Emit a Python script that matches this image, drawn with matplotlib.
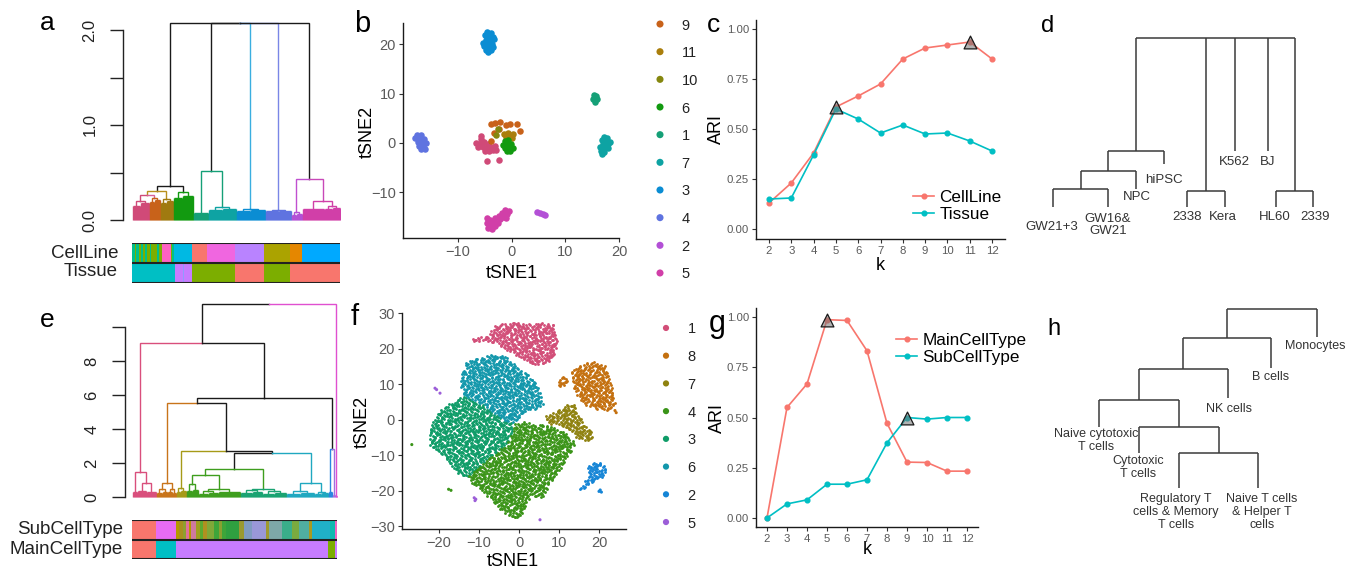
import numpy as np
import matplotlib
matplotlib.use("Agg")
import matplotlib.pyplot as plt
from matplotlib.path import Path

plt.rcParams["font.family"] = ["Liberation Sans", "DejaVu Sans"]

W, H = 1353, 572

# ---------------- data ----------------
# c / g : ARI against k
k_values = list(range(2, 13))
ari_cellline = [0.13, 0.23, 0.38, 0.61, 0.665, 0.725, 0.85, 0.905, 0.92, 0.935, 0.85]
ari_tissue = [0.15, 0.155, 0.37, 0.60, 0.55, 0.48, 0.52, 0.475, 0.48, 0.44, 0.39]
best_k_cellline = [5, 11]
ari_main = [0.0, 0.55, 0.667, 0.987, 0.983, 0.832, 0.471, 0.278, 0.276, 0.233, 0.233]
ari_sub = [0.0, 0.07, 0.09, 0.168, 0.168, 0.19, 0.374, 0.50, 0.492, 0.50, 0.50]
best_k_main = [5]
best_k_sub = [9]

b_colors = {"8": "#D04A78", "9": "#C8621A", "11": "#AA7E0C", "10": "#85870F", "6": "#129A10",
            "1": "#15A077", "7": "#0EA3A3", "3": "#0B8DD3", "4": "#5F73E0", "2": "#B350D6",
            "5": "#D13FA8"}
b_legend = ["9", "11", "10", "6", "1", "7", "3", "4", "2", "5"]
b_points = {
    "8": [(-5.7, 0.8), (-6.6, 0.0), (-5.9, -0.2), (-5.1, 0.1), (-4.4, -0.3), (-6.2, -0.8),
          (-5.4, -0.9), (-4.6, -1.0), (-3.8, -0.9), (-3.0, -0.7), (-5.0, -1.6), (-4.2, -1.7),
          (-3.4, -1.5), (-2.9, -1.4), (-4.6, -3.7), (-2.4, -3.5), (-5.6, 1.4)],
    "9": [(-3.8, 3.9), (-3.1, 4.0), (-2.2, 4.2), (-1.0, 3.7), (1.0, 3.8), (1.6, 2.3),
          (-3.3, 2.0), (-3.8, 0.4), (-2.4, 2.9), (-0.3, 3.9)],
    "11": [(-1.0, 1.2), (-0.3, 1.4), (0.3, 1.7), (-0.6, 2.0), (0.1, 1.0), (-1.4, 1.8)],
    "10": [(-2.6, 2.8), (-2.9, 1.5)],
    "6": [(-1.3, 0.3), (-0.6, 0.5), (-1.5, -0.4), (-0.8, -0.3), (-0.1, -0.3), (-1.2, -1.1),
          (-0.5, -1.0), (0.2, -1.0), (-0.9, -1.6), (-0.2, -1.6)],
    "1": [(15.3, 9.6), (15.8, 9.5), (15.2, 8.9), (15.9, 8.8), (15.5, 8.3)],
    "7": [(17.2, 1.2), (17.8, 1.0), (16.9, 0.5), (17.6, 0.4), (18.3, 0.2), (17.1, -0.2),
          (17.9, -0.3), (16.4, -0.9), (17.2, -1.0), (17.9, -1.0), (16.6, -1.6), (17.3, -1.8),
          (16.9, -2.2)],
    "3": [(-4.5, 22.4), (-3.8, 22.3), (-5.0, 21.8), (-4.2, 21.6), (-3.4, 21.5), (-4.8, 20.9),
          (-4.0, 20.8), (-3.2, 21.0), (-5.4, 20.3), (-4.5, 20.2), (-3.7, 20.1), (-5.2, 19.6),
          (-4.3, 19.4), (-3.5, 19.5), (-4.8, 18.9), (-3.9, 18.8), (-4.4, 18.4)],
    "4": [(-17.6, 1.6), (-16.9, 1.5), (-17.9, 0.9), (-17.1, 0.8), (-16.3, 0.7), (-17.5, 0.1),
          (-16.7, 0.0), (-16.0, -0.1), (-17.2, -0.6), (-16.4, -0.7), (-16.8, -1.3), (-16.1, -1.2)],
    "2": [(4.8, -14.0), (5.3, -14.2), (5.8, -14.4), (6.2, -14.6)],
    "5": [(-1.2, -13.6), (-0.5, -13.8), (-1.8, -14.2), (-0.8, -14.5), (-2.3, -14.8), (-1.5, -15.0),
          (-3.0, -15.3), (-2.2, -15.5), (-4.0, -15.6), (-3.4, -15.9), (-2.6, -16.2), (-4.5, -16.2),
          (-3.8, -16.6), (-3.0, -16.9), (-4.3, -17.2), (-3.6, -17.5), (-4.6, -15.2), (-1.0, -15.3)],
}

# f : tSNE of PBMC, outline of each cluster plus stray dots
f_colors = {"1": "#D24E78", "8": "#C4700F", "7": "#8F8210", "4": "#3A9418", "3": "#0F9C68",
            "6": "#1297AB", "2": "#1585D6", "5": "#9C5ED8"}
f_legend = ["1", "8", "7", "4", "3", "6", "2", "5"]
f_regions = {
    "3": [(-22.7, -5.6), (-21.8, -0.9), (-19.75, 2.8), (-17.25, 4.7), (-13.9, 6.6), (-11.4, 5.6),
          (-8.9, 4.2), (-6.4, 1.9), (-3.9, 0.0), (-1.4, -0.9), (-1.8, -3.8), (-3.1, -6.6),
          (-5.6, -9.4), (-8.1, -11.3), (-10.6, -14.1), (-13.1, -16.0), (-15.6, -15.0),
          (-17.25, -12.2), (-19.75, -9.4), (-22.25, -7.5)],
    "6": [(-14.3, 13.1), (-13.1, 16.4), (-9.75, 17.4), (-7.25, 18.3), (-5.6, 18.3), (-3.1, 17.8),
          (-0.6, 15.0), (1.9, 13.1), (4.4, 10.3), (5.25, 7.5), (6.1, 4.7), (4.4, 2.8), (1.9, 2.8),
          (0.25, 0.9), (-1.4, -0.9), (-3.9, 0.0), (-6.4, 1.9), (-8.9, 4.2), (-11.4, 5.6),
          (-13.9, 6.6), (-14.75, 9.4)],
    "1": [(-12.1, 22.7), (-9.75, 23.5), (-7.25, 23.5), (-6.8, 26.3), (-4.75, 27.2), (-1.4, 27.7),
          (1.9, 26.8), (5.25, 27.2), (8.6, 27.2), (9.8, 21.6), (9.0, 18.8), (7.75, 16.4),
          (5.25, 15.5), (2.75, 15.9), (0.25, 17.4), (-3.1, 19.7), (-5.6, 21.6), (-8.1, 22.1),
          (-11.4, 22.1)],
    "4": [(-12.7, -15.5), (-10.6, -14.1), (-8.1, -11.3), (-5.6, -9.4), (-3.1, -6.6), (-1.8, -3.8),
          (-1.4, -0.9), (1.1, -0.5), (5.25, -1.4), (8.6, -1.9), (11.9, -3.8), (14.0, -6.6),
          (12.75, -9.4), (10.25, -14.1), (7.75, -17.8), (6.1, -22.1), (3.6, -21.6), (1.9, -23.5),
          (0.7, -27.2), (-1.4, -27.7), (-4.75, -25.4), (-7.25, -22.5), (-9.75, -19.7),
          (-12.25, -17.8)],
    "7": [(6.5, 0.9), (8.6, 1.9), (11.9, 4.2), (13.6, 4.7), (14.8, 1.9), (16.1, -0.9), (17.3, -2.8),
          (18.6, -3.8), (18.2, -5.6), (16.1, -6.1), (14.4, -5.2), (12.75, -2.8), (10.25, -1.4),
          (7.75, -1.4)],
    "8": [(13.2, 14.1), (15.25, 15.5), (19.0, 16.4), (21.9, 15.0), (22.75, 11.3), (23.6, 7.5),
          (24.0, 4.7), (22.75, 2.8), (20.25, 2.8), (17.75, 3.3), (16.1, 4.7), (14.0, 7.5),
          (13.2, 10.3)],
    "2": [(17.3, -12.2), (18.6, -11.7), (21.1, -12.2), (21.9, -14.1), (21.1, -16.0), (19.4, -16.9),
          (17.75, -17.8), (16.5, -18.8), (15.7, -20.2), (15.1, -19.7), (16.1, -17.4), (17.1, -15.0)],
}
f_small_regions = [("8", [(9.6, 10.0), (10.6, 12.3), (12.3, 12.0), (11.8, 10.0), (10.6, 9.3)])]
f_strays = [("5", -21.0, 8.9), ("5", -20.6, 8.5), ("5", -19.75, 7.5), ("5", -11.2, -22.0),
            ("5", -10.8, -22.4), ("5", -11.0, -22.8), ("5", 5.25, -28.2), ("4", -26.8, -7.0),
            ("4", -17.6, -19.6), ("4", -17.0, -19.9), ("8", 24.0, 2.6), ("8", 24.3, 2.0),
            ("2", 20.0, -20.2), ("2", 20.6, -20.4), ("2", 20.3, -19.8)]

# a / e : annotation bars under the dendrograms, (colour, number of leaves)
a_cellline = [("#00C08B", 3), ("#7CAE00", 1), ("#00C08B", 3), ("#7CAE00", 2), ("#00C08B", 2),
              ("#7CAE00", 2), ("#00C08B", 2), ("#7CAE00", 3), ("#00C08B", 1), ("#7CAE00", 6),
              ("#00C08B", 2), ("#7CAE00", 3), ("#FF61C3", 9), ("#7CAE00", 1), ("#00C08B", 2),
              ("#00B9E3", 18), ("#F8766D", 15), ("#F066E0", 28), ("#B983FF", 29), ("#ABA300", 26),
              ("#E58700", 12), ("#00A9FF", 38)]
a_tissue = [("#00BFC4", 43), ("#C77CFF", 8), ("#8F9CFF", 1), ("#C77CFF", 8), ("#7CAE00", 43),
            ("#F8766D", 29), ("#7CAE00", 26), ("#F8766D", 50)]
e_subcell = [("#F8766D", 24), ("#E76BF3", 20), ("#B49A00", 3), ("#A89020", 4), ("#8FA030", 3),
             ("#E0709A", 3), ("#B49A00", 2), ("#D07AA0", 5), ("#A0A020", 4), ("#5DAA30", 3),
             ("#B09020", 4), ("#80A838", 7), ("#3EA53A", 5), ("#8AA030", 3), ("#3EA53A", 4),
             ("#2FA040", 13), ("#9A9A30", 5), ("#7F9CC0", 8), ("#9A98D8", 14), ("#A09A30", 3),
             ("#7EA8A8", 13), ("#3AAE8A", 10), ("#7AAA40", 7), ("#50AEA0", 10), ("#A89A20", 3),
             ("#20B0C8", 18), ("#10B8B0", 5), ("#F066C0", 2)]
e_maincell = [("#F8766D", 24), ("#00BFC4", 20), ("#C77CFF", 152), ("#7CAE00", 7), ("#C77CFF", 2)]

# d / h : summary trees (leaf position, leaf height, label position)
d_names = ["GW21+3", "GW16&\nGW21", "NPC", "hiPSC", "2338", "Kera", "K562", "BJ", "HL60", "2339"]
d_leaf_x = [53, 108, 136, 164, 187, 225, 235, 268, 276, 313]
d_leaf_h = [0.0, 0.0, 1.07, 2.55, 0.0, 0.0, 3.3, 3.3, 0.0, 0.0]
d_label_x = [52, 108, 137, 164, 187, 223, 234, 268, 275, 315]
d_label_h = [-1.18, -1.07, 0.59, 1.6, -0.59, -0.59, 2.66, 2.66, -0.59, -0.59]
d_merges = [([0, 1], 1.07), ([10, 2], 2.13), ([11, 3], 3.3), ([4, 5], 0.95), ([8, 9], 0.95),
            ([12, 13, 6, 7, 14], 10.0)]

h_names = ["Naive cytotoxic\nT cells", "Cytotoxic\nT cells", "Regulatory T\ncells & Memory\nT cells",
           "Naive T cells\n& Helper T\ncells", "NK cells", "B cells", "Monocytes"]
h_leaf_x = [99, 139, 179, 258, 228, 271, 317]
h_leaf_h = [3.41, 1.96, 0.0, 0.0, 5.03, 6.70, 8.44]
h_label_x = [96, 138, 176, 262, 229, 271, 315]
h_label_h = [2.68, 1.15, -1.34, -1.34, 4.41, 6.2, 7.93]
h_merges = [([2, 3], 1.96), ([1, 7], 3.41), ([0, 8], 4.92), ([9, 4], 6.65), ([10, 5], 8.38),
            ([11, 6], 10.0)]


# ---------------- dendrogram helpers ----------------
def blk(h, n, c):
    return {"h": h, "n": n, "c": c}


def nd(h, c, *kids):
    return {"h": h, "c": c, "kids": list(kids)}


def layout(node, start):
    if "n" in node:
        node["x0"] = start
        node["x"] = start + (node["n"] - 1) / 2
        return start + node["n"]
    for k in node["kids"]:
        start = layout(k, start)
    node["x"] = (node["kids"][0]["x"] + node["kids"][-1]["x"]) / 2
    return start


def draw_tree(ax, node, lw):
    if "n" in node:
        xs = node["x0"] + np.arange(node["n"])
        ax.vlines(xs, 0, node["h"], color=node["c"], lw=lw)
        ax.hlines(node["h"], xs[0], xs[-1], color=node["c"], lw=lw)
        return
    for k in node["kids"]:
        ax.plot([node["x"], k["x"], k["x"]], [node["h"], node["h"], k["h"]],
                color=k["c"], lw=lw, solid_joinstyle="miter")
        draw_tree(ax, k, lw)


ROSE, ORANGE, OLIVE, GREEN = "#D04A78", "#C8621A", "#A07A10", "#129A10"
TGREEN, TEAL, BLUE, PERI, PURPLE, MAG = "#15A077", "#0EA3A3", "#0B8DD3", "#5F73E0", "#B350D6", "#D13FA8"
DARK = "#1a1a1a"

tree_a = nd(2.07, DARK,
            nd(0.36, DARK,
               nd(0.31, DARK,
                  nd(0.26, "#B8901E",
                     nd(0.20, ROSE, blk(0.15, 8, ROSE), blk(0.18, 9, ROSE)),
                     nd(0.23, "#D8609A", blk(0.19, 5, ORANGE), blk(0.21, 6, ORANGE))),
                  nd(0.22, "#B8901E", blk(0.18, 6, OLIVE), blk(0.20, 7, OLIVE))),
               nd(0.29, DARK, blk(0.23, 9, GREEN), blk(0.25, 11, GREEN))),
            nd(0.52, DARK, blk(0.07, 15, TGREEN),
               nd(0.14, TGREEN, blk(0.11, 14, TEAL), blk(0.12, 14, TEAL))),
            nd(0.12, "#3AAEE0", blk(0.10, 14, BLUE), blk(0.11, 15, BLUE)),
            nd(0.11, "#7A86E6", blk(0.09, 13, PERI), blk(0.10, 13, PERI)),
            nd(0.43, DARK,
               nd(0.08, "#C050D0", blk(0.05, 5, PURPLE), blk(0.06, 6, PURPLE)),
               nd(0.20, "#C848B8", blk(0.12, 22, MAG),
                  nd(0.15, MAG, blk(0.12, 8, MAG), blk(0.13, 8, MAG)))))

E_PINK, E_ORANGE, E_OLIVE, E_GREEN = "#D94F7C", "#C8741A", "#A69A18", "#3E9E1E"
E_TGREEN, E_CYAN, E_BLUE, E_PURPLE, E_MAG = "#1AA372", "#20A8C0", "#2A86E0", "#A070E0", "#E050D0"

tree_e = nd(11.35, DARK,
            nd(9.06, DARK,
               nd(1.45, E_PINK, blk(0.3, 5, E_PINK),
                  nd(0.8, E_PINK, blk(0.35, 9, E_PINK), blk(0.3, 10, E_PINK))),
               nd(5.82, DARK,
                  nd(5.55, DARK,
                     nd(0.8, E_ORANGE,
                        nd(0.45, E_ORANGE, blk(0.25, 6, E_ORANGE), blk(0.3, 5, E_ORANGE)),
                        nd(0.5, E_ORANGE, blk(0.3, 5, E_ORANGE), blk(0.25, 4, E_ORANGE))),
                     nd(2.7, DARK,
                        nd(0.55, E_OLIVE, blk(0.3, 4, E_OLIVE), blk(0.35, 6, E_OLIVE)),
                        nd(2.6, DARK,
                           nd(1.65, DARK,
                              nd(1.3, E_GREEN,
                                 nd(0.75, E_GREEN, blk(0.35, 6, E_GREEN), blk(0.4, 6, E_GREEN)),
                                 nd(0.5, E_GREEN,
                                    nd(0.35, E_GREEN, blk(0.2, 10, E_GREEN), blk(0.25, 10, E_GREEN)),
                                    blk(0.3, 22, E_GREEN))),
                              nd(0.45, E_GREEN,
                                 nd(0.4, E_TGREEN, blk(0.25, 12, E_TGREEN), blk(0.3, 10, E_TGREEN)),
                                 nd(0.35, E_TGREEN, blk(0.2, 12, E_TGREEN), blk(0.25, 12, E_TGREEN)))),
                           nd(0.8, E_CYAN,
                              nd(0.35, E_CYAN, blk(0.2, 14, E_CYAN), blk(0.25, 14, E_CYAN)),
                              nd(0.3, E_CYAN, blk(0.2, 7, E_CYAN), blk(0.25, 7, E_CYAN)))))),
                  nd(2.8, DARK, blk(0.3, 4, E_BLUE), blk(0.1, 3, E_PURPLE)))),
            blk(0.05, 2, E_MAG))

# ---------------- figure ----------------
fig = plt.figure(figsize=(W / 100, H / 100), dpi=100)


def px_axes(x0, y0, x1, y1):
    return fig.add_axes([x0 / W, 1 - y1 / H, (x1 - x0) / W, (y1 - y0) / H])


def px_text(x, y, s, **kw):
    fig.text(x / W, 1 - y / H, s, **kw)


def base_axis(ax, ticks, labels, top):
    for s in ["top", "right", "bottom"]:
        ax.spines[s].set_visible(False)
    ax.spines["left"].set_bounds(0, top)
    ax.spines["left"].set_linewidth(1.0)
    ax.spines["left"].set_color("#222222")
    ax.set_xticks([])
    ax.set_yticks(ticks)
    ax.set_yticklabels(labels, rotation=90, va="center", fontsize=12, color="#222222")
    ax.tick_params(axis="y", length=9.5, width=1.0, pad=9, color="#222222")
    ax.patch.set_visible(False)


def bars(ax, rows, n):
    for r, segs in enumerate(rows):
        widths = [w for _, w in segs]
        lefts = np.concatenate([[0], np.cumsum(widths)[:-1]])
        ax.barh(r, widths, left=lefts, height=1.0, align="edge",
                color=[c for c, _ in segs], linewidth=0)
    for y in range(len(rows) + 1):
        ax.axhline(y, color="#222222", lw=1.5)
    ax.set_xlim(0, n)
    ax.set_ylim(len(rows), 0)
    ax.axis("off")


# a
ax = px_axes(123, 20.5, 341, 221.9)
n_a = layout(tree_a, 0)
draw_tree(ax, tree_a, 1.0)
ax.set_xlim(-9.5, n_a + 0.5)
ax.set_ylim(-0.02, 2.1)
base_axis(ax, [0, 0.5, 1, 1.5, 2], ["0.0", "", "1.0", "", "2.0"], 2)
ax = px_axes(132, 243, 340, 283)
bars(ax, [a_cellline, a_tissue], n_a)
px_text(118, 253, "CellLine", ha="right", va="center", fontsize=13.5, color="#222222")
px_text(118, 272, "Tissue", ha="right", va="center", fontsize=13.5, color="#222222")

# e
ax = px_axes(125, 301.5, 338, 498.7)
n_e = layout(tree_e, 0)
draw_tree(ax, tree_e, 1.0)
ax.set_xlim(-7.5, n_e + 0.5)
ax.set_ylim(-0.1, 11.5)
base_axis(ax, [0, 2, 4, 6, 8, 10], ["0", "2", "4", "6", "8", ""], 10)
ax = px_axes(132, 520, 337, 559)
bars(ax, [e_subcell, e_maincell], n_e)
px_text(123, 529, "SubCellType", ha="right", va="center", fontsize=13.5, color="#222222")
px_text(123, 549, "MainCellType", ha="right", va="center", fontsize=13.5, color="#222222")


def gg_axes(ax, fs):
    for s in ["top", "right"]:
        ax.spines[s].set_visible(False)
    for s in ["left", "bottom"]:
        ax.spines[s].set_linewidth(1.0)
        ax.spines[s].set_color("#1a1a1a")
    ax.tick_params(length=3, width=0.8, color="#333333", labelcolor="#5a5a5a",
                   labelsize=fs, pad=2)


# b
ax = px_axes(403, 23, 619, 238)
for lab in ["8", "9", "11", "10", "6", "1", "7", "3", "4", "2", "5"]:
    pts = np.array(b_points[lab])
    ax.scatter(pts[:, 0], pts[:, 1], s=22, color=b_colors[lab], linewidths=0)
ax.set_xlim(-20.2, 20.0)
ax.set_ylim(-19.3, 24.3)
ax.set_xticks([-10, 0, 10, 20])
ax.set_yticks([-10, 0, 10, 20])
gg_axes(ax, 10.5)
px_text(512, 273, "tSNE1", ha="center", va="center", fontsize=13)
px_text(367, 132, "tSNE2", ha="center", va="center", fontsize=13, rotation=90)

ax = px_axes(645, 10.2, 720, 286.8)
ax.scatter(np.zeros(len(b_legend)), np.arange(len(b_legend)), s=26,
           color=[b_colors[l] for l in b_legend], linewidths=0)
for i, lab in enumerate(b_legend):
    ax.text(1.45, i, lab, ha="left", va="center_baseline", fontsize=10.5, color="#222222")
ax.set_xlim(-1.0, 4.0)
ax.set_ylim(len(b_legend) - 0.5, -0.5)
ax.axis("off")


# f : dense clouds, each outline filled with an even (Halton) spread of dots
def radical_inverse(i, base):
    i = i.copy()
    f, r = 1.0, np.zeros(len(i))
    while i.max() > 0:
        f /= base
        r += f * (i % base)
        i //= base
    return r


def fill_region(poly, step_x, step_y):
    path = Path(poly)
    pts = np.array(poly)
    (x0, y0), (x1, y1) = pts.min(0), pts.max(0)
    n = int((x1 - x0) / step_x * (y1 - y0) / step_y)
    i = np.arange(1, n + 1)
    cand = np.column_stack([x0 + radical_inverse(i, 2) * (x1 - x0),
                            y0 + radical_inverse(i, 3) * (y1 - y0)])
    return cand[path.contains_points(cand)]


ax = px_axes(402, 313, 626, 529)
for lab in ["3", "6", "1", "4", "7", "8", "2"]:
    pts = fill_region(f_regions[lab], 0.58, 0.66)
    ax.scatter(pts[:, 0], pts[:, 1], s=4.2, color=f_colors[lab], linewidths=0)
for lab, poly in f_small_regions:
    pts = fill_region(poly, 0.58, 0.66)
    ax.scatter(pts[:, 0], pts[:, 1], s=4.2, color=f_colors[lab], linewidths=0)
ax.scatter([p[1] for p in f_strays], [p[2] for p in f_strays], s=5,
           color=[f_colors[p[0]] for p in f_strays], linewidths=0)
ax.set_xlim(-29.25, 26.75)
ax.set_ylim(-30.8, 30.1)
ax.set_xticks([-20, -10, 0, 10, 20])
ax.set_yticks([-30, -20, -10, 0, 10, 20, 30])
gg_axes(ax, 10.5)
px_text(513, 562, "tSNE1", ha="center", va="center", fontsize=13)
px_text(362, 422, "tSNE2", ha="center", va="center", fontsize=13, rotation=90)

ax = px_axes(645, 314.1, 720, 535.9)
ax.scatter(np.zeros(len(f_legend)), np.arange(len(f_legend)), s=20,
           color=[f_colors[l] for l in f_legend], linewidths=0)
for i, lab in enumerate(f_legend):
    ax.text(1.45, i, lab, ha="left", va="center_baseline", fontsize=10.5, color="#222222")
ax.set_xlim(-1.4, 3.6)
ax.set_ylim(len(f_legend) - 0.5, -0.5)
ax.axis("off")


# c / g
def ari_panel(box, ylim, xlim, s1, s2, names, best1, best2, leg_xy):
    ax = px_axes(*box)
    l1, = ax.plot(k_values, s1, color="#F8766D", lw=1.2, marker="o", ms=3.4, label=names[0])
    l2, = ax.plot(k_values, s2, color="#00BFC4", lw=1.2, marker="o", ms=3.4, label=names[1])
    tk = [k for k in best1] + [k for k in best2]
    tv = [s1[k_values.index(k)] for k in best1] + [s2[k_values.index(k)] for k in best2]
    ax.scatter(tk, tv, marker="^", s=85, facecolors=(0.45, 0.45, 0.45, 0.55),
               edgecolors="#1a1a1a", linewidths=0.9, zorder=5)
    ax.set_xlim(*xlim)
    ax.set_ylim(*ylim)
    ax.set_xticks(k_values)
    ax.set_yticks([0, 0.25, 0.5, 0.75, 1.0])
    ax.set_yticklabels(["0.00", "0.25", "0.50", "0.75", "1.00"])
    gg_axes(ax, 8.2)
    ax.legend(handles=[l1, l2], loc="center left", frameon=False, fontsize=12.3,
              bbox_to_anchor=(leg_xy[0] / W, 1 - leg_xy[1] / H), bbox_transform=fig.transFigure,
              borderaxespad=0, borderpad=0, handlelength=1.25, handletextpad=0.3,
              labelspacing=0.15)
    return ax


ari_panel((756, 20, 1005, 239), (-0.05, 1.045), (1.42, 12.58), ari_cellline, ari_tissue,
          ["CellLine", "Tissue"], best_k_cellline, [], (913, 206))
px_text(716, 129, "ARI", ha="center", va="center", fontsize=13, rotation=90)
px_text(880, 265, "k", ha="center", va="center", fontsize=13)

ari_panel((756, 308, 978, 527), (-0.045, 1.045), (1.45, 12.55), ari_main, ari_sub,
          ["MainCellType", "SubCellType"], best_k_main, best_k_sub, (896, 349))
px_text(717, 418, "ARI", ha="center", va="center", fontsize=13, rotation=90)
px_text(867, 550, "k", ha="center", va="center", fontsize=13)


# d / h
def summary_tree(box, ylim, leaf_x, leaf_h, merges, names, lab_x, lab_h, fs, ls):
    ax = px_axes(*box)
    xs = list(leaf_x)
    hs = list(leaf_h)
    for kids, h in merges:
        kx = [xs[k] for k in kids]
        ax.hlines(h, min(kx), max(kx), color="#3a3a3a", lw=1.1)
        ax.vlines(kx, [hs[k] for k in kids], h, color="#3a3a3a", lw=1.1)
        xs.append((min(kx) + max(kx)) / 2)
        hs.append(h)
    for name, x, y in zip(names, lab_x, lab_h):
        ax.text(x, y, name, ha="center", va="center", fontsize=fs, color="#333333",
                linespacing=ls)
    ax.set_xlim(0, 353)
    ax.set_ylim(*ylim)
    ax.axis("off")


summary_tree((1000, 30, 1353, 250), (-2.54, 10.47), d_leaf_x, d_leaf_h, d_merges, d_names,
             d_label_x, d_label_h, 9.5, 1.05)
summary_tree((1000, 300, 1353, 540), (-2.9, 10.5), h_leaf_x, h_leaf_h, h_merges, h_names,
             h_label_x, h_label_h, 9, 1.1)

# panel letters
for lab, x, y, fs in [("a", 47, 30, 19), ("b", 362, 32, 21), ("c", 713, 32, 19), ("d", 1048, 32, 17),
                      ("e", 47, 327, 19), ("f", 355, 325, 21), ("g", 717, 332, 22), ("h", 1054, 335, 17)]:
    px_text(x, y, lab, ha="center", va="baseline", fontsize=fs, color="black")

fig.savefig("out.png", dpi=100)
